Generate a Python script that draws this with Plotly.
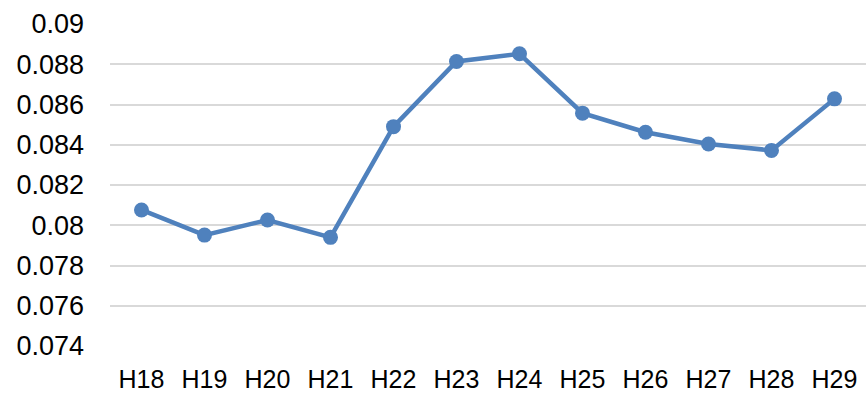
import plotly.graph_objects as go

categories = ["H18", "H19", "H20", "H21", "H22", "H23", "H24", "H25", "H26", "H27", "H28", "H29"]
values = [0.08076, 0.07951, 0.08026, 0.0794, 0.0849, 0.08814, 0.08852, 0.08557, 0.08462, 0.08404, 0.08372, 0.08628]
y_tickvals = [0.074, 0.076, 0.078, 0.08, 0.082, 0.084, 0.086, 0.088, 0.09]
y_ticktext = ["0.074", "0.076", "0.078", "0.08", "0.082", "0.084", "0.086", "0.088", "0.09"]

color = "#4F81BD"
yfont = dict(family="Liberation Sans, Arial, sans-serif", size=27, color="#000000")
xfont = dict(family="Liberation Sans, Arial, sans-serif", size=25, color="#000000")

fig = go.Figure()
fig.add_trace(go.Scatter(
    x=categories, y=values, mode="lines+markers",
    line=dict(color=color, width=4.5),
    marker=dict(color=color, size=15),
    showlegend=False, hoverinfo="x+y",
))

fig.update_layout(
    width=866, height=393,
    margin=dict(l=110, r=0, t=24, b=47),
    paper_bgcolor="white", plot_bgcolor="white",
    font=yfont,
)
fig.update_xaxes(
    type="category", range=[-0.5, 11.5], automargin=False,
    showgrid=False, zeroline=False, showline=False, ticks="",
    tickfont=xfont, ticklabelstandoff=16,
)
fig.update_yaxes(
    range=[0.074, 0.09], tickvals=y_tickvals, ticktext=y_ticktext, automargin=False,
    showgrid=True, gridcolor="#D9D9D9", gridwidth=1.5,
    zeroline=False, showline=False, ticks="",
    tickfont=yfont, ticklabelstandoff=25,
)

fig.write_html(
    "out.html",
    config={"displayModeBar": False},
    post_script="document.body.style.margin='0';document.body.style.padding='0';document.body.style.overflow='hidden';",
)
